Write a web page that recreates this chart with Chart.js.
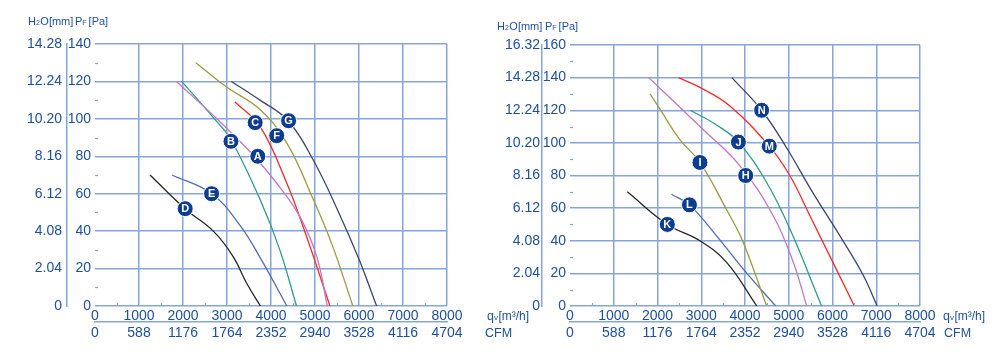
<!DOCTYPE html>
<html>
<head>
<meta charset="utf-8">
<script src="https://cdn.jsdelivr.net/npm/chart.js@4.4.0/dist/chart.umd.min.js"></script>
<style>
  html, body { margin: 0; padding: 0; background: #fff; }
  #wrap { position: relative; width: 1000px; height: 352px; overflow: hidden; }
  #left { position: absolute; left: 0; top: 0; }
  #right { position: absolute; left: 490px; top: 0; }
</style>
</head>
<body>
<div id="wrap">
  <canvas id="left" width="540" height="352"></canvas>
  <canvas id="right" width="510" height="352"></canvas>
</div>
<script>
// tick labels
var qLabels = ['0', '1000', '2000', '3000', '4000', '5000', '6000', '7000', '8000'];
var cfmLabels = ['0', '588', '1176', '1764', '2352', '2940', '3528', '4116', '4704'];
var paLeft = ['0', '20', '40', '60', '80', '100', '120', '140'];
var mmLeft = ['0', '2.04', '4.08', '6.12', '8.16', '10.20', '12.24', '14.28'];
var paRight = ['0', '20', '40', '60', '80', '100', '120', '140', '160'];
var mmRight = ['0', '2.04', '4.08', '6.12', '8.16', '10.20', '12.24', '14.28', '16.32'];

// left chart curves, q [m3/h] and p [Pa]
var qA = [1850, 2840, 3560, 4130, 4650, 5040, 5280];
var pA = [120, 98.5, 81.5, 65.6, 48, 26.4, 0];
var qB = [1970, 2770, 3090, 3750, 4200, 4580];
var pB = [120, 98.5, 89, 57, 30, 0];
var qC = [3180, 3750, 4360, 4810, 5340];
var pC = [109, 96, 65.6, 37, 0];
var qD = [1250, 2045, 2690, 3140, 3450, 3760];
var pD = [70, 52, 40, 26.4, 12, 0];
var qE = [1750, 2650, 3300, 3750, 4360];
var pE = [70, 60, 43, 26, 0];
var qF = [2290, 2990, 3750, 4360, 4960, 5400, 5860];
var pF = [130, 117, 105, 87, 57, 32, 0];
var qG = [3100, 3750, 4390, 4960, 5500, 6000, 6400];
var pG = [120, 110, 99, 78, 52, 25, 0];

// right chart curves
var qH = [1800, 2970, 3890, 4650, 5105, 5410];
var pH = [140, 110, 85.8, 55, 26.7, 0];
var qI = [1830, 2060, 2510, 2970, 3580, 3960, 4495];
var pI = [130, 120.5, 102, 88, 59, 39, 0];
var qJ = [2750, 3350, 3850, 4495, 5030, 5750];
var pJ = [120, 111, 100.5, 75.7, 47, 0];
var qK = [1310, 2225, 2970, 3580, 4270];
var pK = [70, 50, 40, 26.7, 0];
var qL = [2320, 2730, 3350, 3960, 4700];
var pL = [68.5, 62, 43, 22.6, 0];
var qM = [2480, 2970, 3660, 4555, 5030, 5490, 6500];
var pM = [140, 134, 122.5, 98, 79.7, 55, 0];
var qN = [3700, 4380, 4950, 5560, 6170, 6700, 7020];
var pN = [140, 120, 97, 69, 43, 19, 0];

// curve badges
var markLeftText = ['A', 'B', 'C', 'D', 'E', 'F', 'G'];
var markLeftQ = [3700, 3090, 3640, 2050, 2650, 4130, 4400];
var markLeftP = [80, 88, 98, 52, 60, 91, 99];
var markRightText = ['H', 'I', 'J', 'K', 'L', 'M', 'N'];
var markRightQ = [4015, 2970, 3850, 2225, 2730, 4555, 4380];
var markRightP = [80, 88, 100.5, 50, 62, 98, 120];

var textColor = '#1d4f9e';
var gridColor = '#86a5d9';
var badgeColor = '#0c3d8e';
var fontFamily = "'Liberation Sans', Arial, sans-serif";

function pts(q, p) {
  var out = [];
  for (var i = 0; i < q.length; i++) out.push({ x: q[i], y: p[i] });
  return out;
}

function curve(q, p, color) {
  return {
    data: pts(q, p),
    borderColor: color,
    borderWidth: 1.3,
    pointRadius: 0,
    fill: false,
    tension: 0.4
  };
}

// draw text made of pieces, some of them small subscripts
function drawParts(ctx, parts, x, y) {
  ctx.textAlign = 'left';
  ctx.textBaseline = 'alphabetic';
  for (var i = 0; i < parts.length; i++) {
    var part = parts[i];
    ctx.font = part[1] + 'px ' + fontFamily;
    ctx.fillText(part[0], x, y + (part[2] || 0));
    x += ctx.measureText(part[0]).width + (part[3] || 0);
  }
}

function makeChart(id, cfg) {
  var ctx = document.getElementById(id).getContext('2d');

  var extras = {
    id: 'extras',
    afterDatasetsDraw: function (chart) {
      var c = chart.ctx;
      var area = chart.chartArea;
      var xs = chart.scales.x, ys = chart.scales.y;
      c.save();
      // minor ticks
      c.strokeStyle = gridColor;
      c.lineWidth = 1.2;
      for (var v = 10; v < cfg.pMax; v += 20) {
        var py = Math.round(ys.getPixelForValue(v)) + 0.5;
        c.beginPath(); c.moveTo(area.left, py); c.lineTo(area.left + 3, py); c.stroke();
      }
      for (var q = 500; q < 8000; q += 1000) {
        var px = Math.round(xs.getPixelForValue(q)) + 0.5;
        c.beginPath(); c.moveTo(px, area.bottom); c.lineTo(px, area.bottom - 3); c.stroke();
      }
      // badge letters
      var meta = chart.getDatasetMeta(0);
      c.fillStyle = '#fff';
      c.font = 'bold 11px ' + fontFamily;
      c.textAlign = 'center';
      c.textBaseline = 'middle';
      meta.data.forEach(function (el, i) {
        c.fillText(cfg.marks[i], el.x, el.y + 0.5);
      });
      // axis titles
      c.fillStyle = textColor;
      drawParts(c, [['H', 11], ['2', 7, 0, 0.5], ['O[mm]', 11]], cfg.mmTitle[0], cfg.mmTitle[1]);
      drawParts(c, [['P', 11], ['F', 7, 0, 2], ['[Pa]', 11]], cfg.paTitle[0], cfg.paTitle[1]);
      drawParts(c, [['q', 12.5], ['v', 8, 0, 0.5], ['[m\u00b3/h]', 12]], cfg.qTitle[0], cfg.qTitle[1]);
      drawParts(c, [['CFM', 12.5]], cfg.cfmTitle[0], cfg.cfmTitle[1]);
      c.restore();
    }
  };

  var datasets = [{
    data: pts(cfg.markQ, cfg.markP),
    showLine: false,
    pointRadius: 8,
    pointBackgroundColor: badgeColor,
    pointBorderColor: '#fff',
    pointBorderWidth: 1,
    order: -1
  }].concat(cfg.curves);

  var tickFont = { family: fontFamily, size: 14 };

  return new Chart(ctx, {
    type: 'line',
    data: { datasets: datasets },
    options: {
      responsive: false,
      animation: false,
      layout: { padding: cfg.padding },
      plugins: { legend: { display: false }, tooltip: { enabled: false } },
      scales: {
        x: {
          type: 'linear', position: 'bottom', weight: 0,
          min: 0, max: 8000,
          ticks: { stepSize: 1000, color: textColor, font: tickFont, padding: 2,
                   callback: function (v, i) { return qLabels[i]; } },
          grid: { color: function (c) { return c.tick && c.tick.value === 0 ? 'rgba(0,0,0,0)' : gridColor; },
                  lineWidth: 1.5, drawTicks: false },
          border: { display: false },
          afterFit: function (s) { s.height = 16; }
        },
        x2: {
          type: 'linear', position: 'bottom', weight: 1,
          min: 0, max: 8000,
          ticks: { stepSize: 1000, color: textColor, font: tickFont, padding: 3,
                   callback: function (v, i) { return cfmLabels[i]; } },
          grid: { display: false, drawTicks: false },
          border: { display: true, color: gridColor, width: 1.5 },
          afterFit: function (s) { s.height = 30; }
        },
        y: {
          type: 'linear', position: 'left', weight: 0,
          min: 0, max: cfg.pMax,
          ticks: { stepSize: 20, color: textColor, font: tickFont, padding: 4,
                   callback: function (v, i) { return cfg.paLabels[i]; } },
          grid: { color: gridColor, lineWidth: 1.5, drawTicks: false },
          border: { display: false },
          afterFit: function (s) { s.width = 28; }
        },
        y2: {
          type: 'linear', position: 'left', weight: 1,
          min: 0, max: cfg.pMax,
          ticks: { stepSize: 20, color: textColor, font: tickFont, padding: cfg.mmPad,
                   callback: function (v, i) { return cfg.mmLabels[i]; } },
          grid: { display: false, drawTicks: false },
          border: { display: true, color: gridColor, width: 1.5 },
          afterFit: function (s) { s.width = cfg.mmWidth; }
        }
      }
    },
    plugins: [extras]
  });
}

var leftChart = makeChart('left', {
  pMax: 140,
  paLabels: paLeft,
  mmLabels: mmLeft,
  mmWidth: 67,
  mmPad: 5,
  padding: { left: 0, right: 93, top: 44, bottom: 0 },
  marks: markLeftText,
  markQ: markLeftQ,
  markP: markLeftP,
  mmTitle: [28, 25],
  paTitle: [75, 25],
  qTitle: [487, 320],
  cfmTitle: [485, 337],
  curves: [
    curve(qA, pA, '#c276c4'),
    curve(qB, pB, '#2e9a8c'),
    curve(qC, pC, '#f22b2b'),
    curve(qD, pD, '#262626'),
    curve(qE, pE, '#4f6db5'),
    curve(qF, pF, '#9c9a42'),
    curve(qG, pG, '#3b4672')
  ]
});

var rightChart = makeChart('right', {
  pMax: 160,
  paLabels: paRight,
  mmLabels: mmRight,
  mmWidth: 52,
  mmPad: 2,
  padding: { left: 0, right: 80, top: 45, bottom: 0 },
  marks: markRightText,
  markQ: markRightQ,
  markP: markRightP,
  mmTitle: [7, 30],
  paTitle: [55, 30],
  qTitle: [453, 320],
  cfmTitle: [454, 337],
  curves: [
    curve(qH, pH, '#c276c4'),
    curve(qI, pI, '#9c9a42'),
    curve(qJ, pJ, '#2e9a8c'),
    curve(qK, pK, '#262626'),
    curve(qL, pL, '#4f6db5'),
    curve(qM, pM, '#f22b2b'),
    curve(qN, pN, '#3b4672')
  ]
});
</script>
</body>
</html>
